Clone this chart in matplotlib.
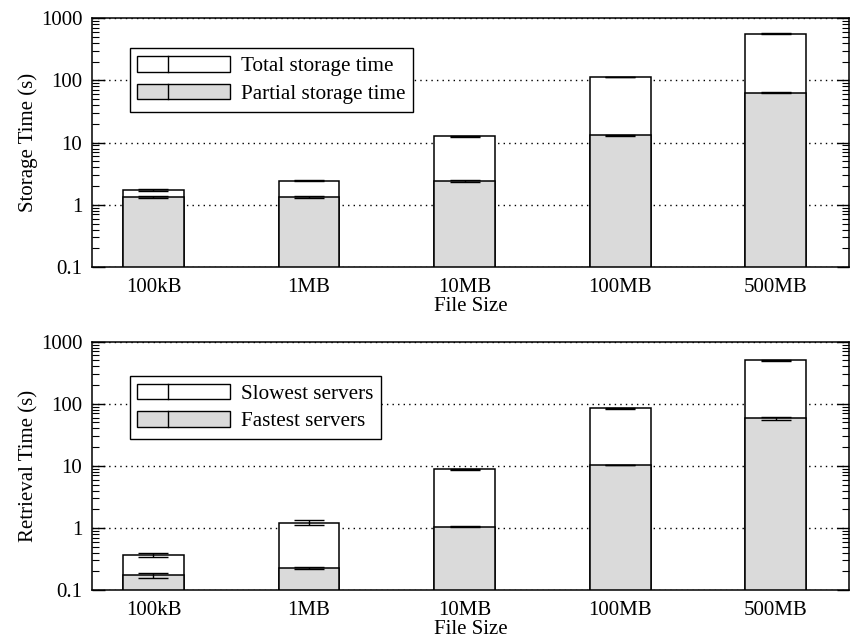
import matplotlib
matplotlib.use("Agg")
import matplotlib.pyplot as plt
import numpy as np
from matplotlib.legend_handler import HandlerBase
from matplotlib.patches import Rectangle
from matplotlib.lines import Line2D
from matplotlib.ticker import FixedLocator, FixedFormatter, LogLocator, NullFormatter

# ---- data ----
categories = ['100kB', '1MB', '10MB', '100MB', '500MB']
y_ticks = [0.1, 1, 10, 100, 1000]
y_tick_labels = ['0.1', '1', '10', '100', '1000']

total_storage = [1.74, 2.45, 12.6, 113, 562]
total_storage_err = [0.05, 0.05, 0.3, 2.0, 12]
partial_storage = [1.32, 1.33, 2.4, 13.0, 63]
partial_storage_err = [0.04, 0.03, 0.06, 0.2, 1.0]

slowest = [0.367, 1.22, 8.75, 84, 505]
slowest_err = [0.03, 0.12, 0.15, 1.5, 8]
fastest = [0.175, 0.227, 1.05, 10.3, 58]
fastest_err = [0.016, 0.008, 0.02, 0.15, 3.5]

plt.rcParams['font.family'] = ['Liberation Serif', 'DejaVu Serif']
FS = 15
LFS = 15.2
GRAY = '#dadada'


class BoxHandler(HandlerBase):
    def create_artists(self, legend, orig_handle, xdescent, ydescent,
                       width, height, fontsize, trans):
        r = Rectangle((-xdescent, -ydescent), width, height,
                      facecolor=orig_handle.get_facecolor(),
                      edgecolor='black', lw=1.0, transform=trans)
        lx = -xdescent + width / 3.0
        ln = Line2D([lx, lx], [-ydescent, -ydescent + height],
                    color='black', lw=1.0, transform=trans)
        return [r, ln]


def panel(ax, tops, tops_err, bottoms, bottoms_err, ylabel, labels, anchor_y):
    x = np.arange(len(categories))
    w = 0.39
    base = 0.1
    ax.bar(x, np.array(tops) - base, bottom=base, width=w, color='white',
           edgecolor='black', lw=1.1, zorder=3)
    ax.errorbar(x, tops, yerr=tops_err, fmt='none', ecolor='black',
                elinewidth=1.0, capsize=11, capthick=1.0, zorder=4)
    ax.bar(x, np.array(bottoms) - base, bottom=base, width=w, color=GRAY,
           edgecolor='black', lw=1.1, zorder=5)
    ax.errorbar(x, bottoms, yerr=bottoms_err, fmt='none', ecolor='black',
                elinewidth=1.0, capsize=11, capthick=1.0, zorder=6)
    ax.set_yscale('log')
    ax.set_ylim(0.1, 1000)
    ax.set_xlim(-0.395, 4.47)
    ax.yaxis.set_major_locator(FixedLocator(y_ticks))
    ax.yaxis.set_major_formatter(FixedFormatter(y_tick_labels))
    ax.yaxis.set_minor_locator(LogLocator(base=10, subs=np.arange(2, 10)))
    ax.yaxis.set_minor_formatter(NullFormatter())
    ax.set_xticks(x)
    ax.set_xticklabels(categories, fontsize=FS)
    ax.tick_params(axis='x', length=0, pad=8)
    ax.tick_params(axis='y', which='major', direction='in', length=9,
                   width=1.0, right=True, labelsize=FS, pad=7)
    ax.tick_params(axis='y', which='minor', direction='in', length=5,
                   width=0.8, right=True)
    ax.yaxis.grid(True, which='major', linestyle=(0, (1, 3)), color='black',
                  lw=1.0, zorder=0)
    ax.set_axisbelow(True)
    for s in ax.spines.values():
        s.set_linewidth(1.1)
    ax.set_ylabel(ylabel, fontsize=FS, labelpad=2)
    ax.set_xlabel('File Size', fontsize=FS, labelpad=0)
    handles = [Rectangle((0, 0), 1, 1, facecolor='white'),
               Rectangle((0, 0), 1, 1, facecolor=GRAY)]
    leg = ax.legend(handles, labels, loc='upper left',
                    bbox_to_anchor=(0.05, anchor_y), borderaxespad=0,
                    handler_map={Rectangle: BoxHandler()},
                    fontsize=LFS, handlelength=4.4, handleheight=0.76,
                    handletextpad=0.5, labelspacing=0.36, borderpad=0.36,
                    fancybox=False, framealpha=1.0, edgecolor='black')
    leg.get_frame().set_linewidth(1.0)
    leg.set_zorder(10)


fig = plt.figure(figsize=(8.51, 6.40), dpi=100)
ax1 = fig.add_axes([0.1081, 0.5828, 0.8895, 0.389])
ax2 = fig.add_axes([0.1081, 0.0781, 0.8895, 0.388])

panel(ax1, total_storage, total_storage_err, partial_storage, partial_storage_err,
      'Storage Time (s)', ['Total storage time', 'Partial storage time'], 0.878)
panel(ax2, slowest, slowest_err, fastest, fastest_err,
      'Retrieval Time (s)', ['Slowest servers', 'Fastest servers'], 0.862)

fig.savefig('out.png', dpi=100)
